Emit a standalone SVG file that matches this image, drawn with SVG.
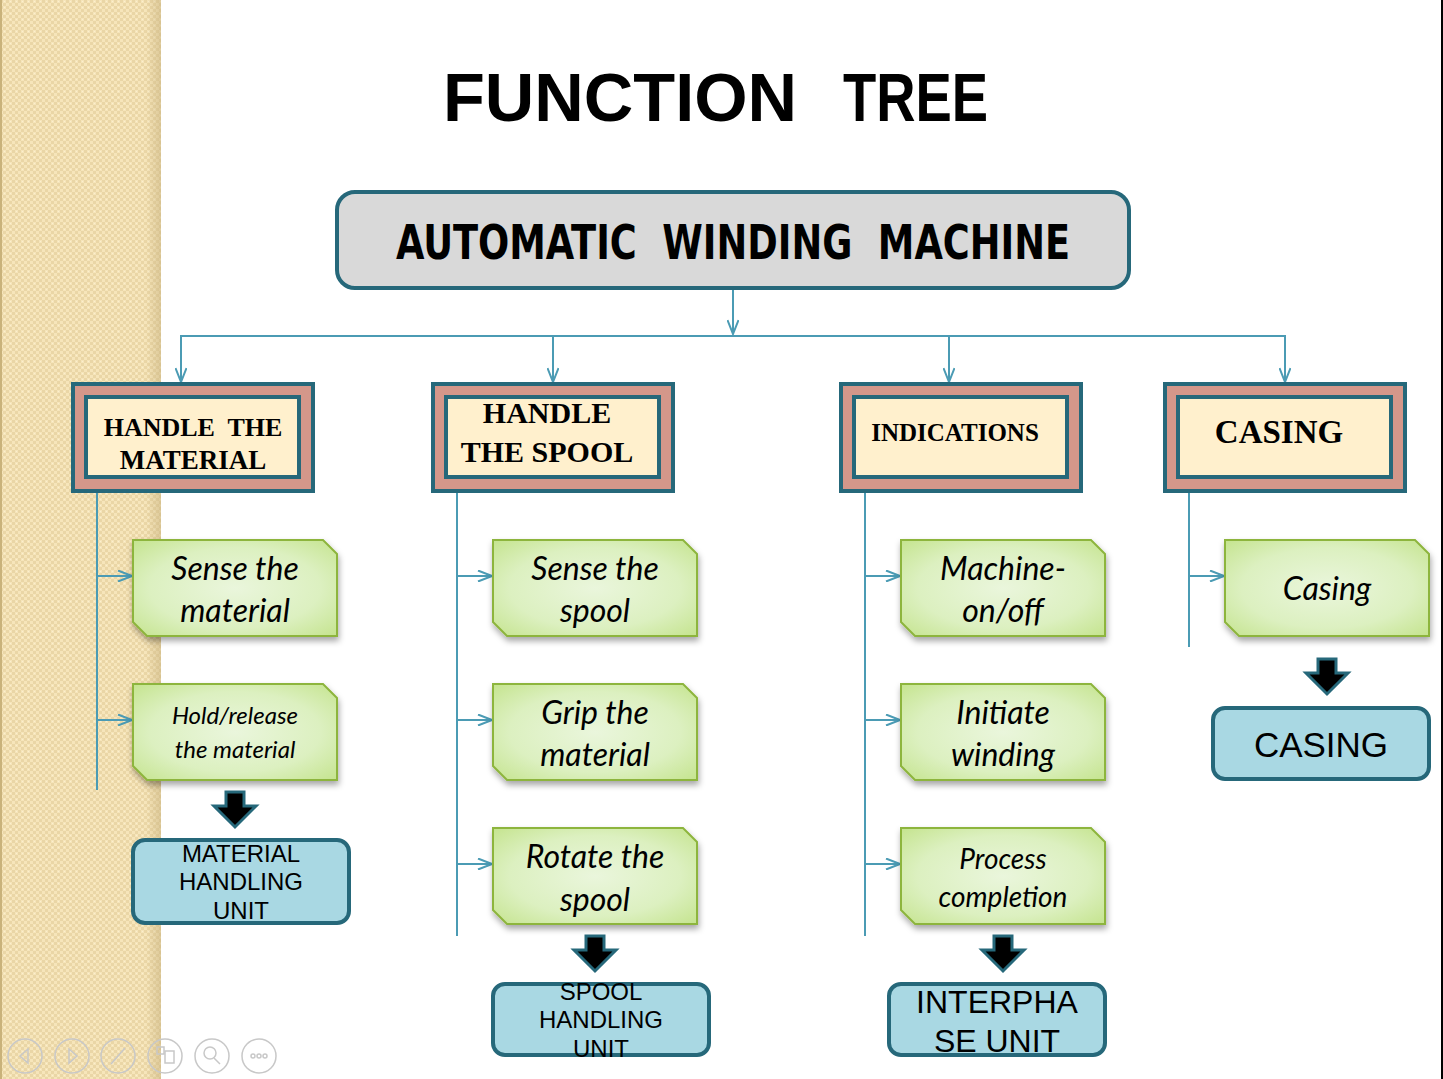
<svg xmlns="http://www.w3.org/2000/svg" width="1443" height="1079" viewBox="0 0 1443 1079">
  <defs>
    <pattern id="weave" width="6" height="6" patternUnits="userSpaceOnUse">
      <rect width="6" height="6" fill="#f6e5ba"/>
      <rect x="0" y="0" width="3" height="3" fill="#ead6a6"/>
      <rect x="3" y="3" width="3" height="3" fill="#ead6a6"/>
      <rect x="4" y="1" width="1" height="1" fill="#fbefcf"/>
    </pattern>
    <linearGradient id="stripEdge" x1="0" x2="1" y1="0" y2="0">
      <stop offset="0" stop-color="#c8b27e" stop-opacity="0"/>
      <stop offset="1" stop-color="#c8b27e" stop-opacity="0.55"/>
    </linearGradient>
    <radialGradient id="leafFill" cx="0.5" cy="0.5" r="0.7">
      <stop offset="0" stop-color="#eaf6dc"/>
      <stop offset="0.6" stop-color="#dcf0c0"/>
      <stop offset="1" stop-color="#c5e48f"/>
    </radialGradient>
    <filter id="shadow" x="-10%" y="-10%" width="125%" height="135%">
      <feDropShadow dx="1" dy="4" stdDeviation="3" flood-color="#000" flood-opacity="0.35"/>
    </filter>
    <marker id="tip" markerWidth="16" markerHeight="12" refX="15" refY="6" orient="auto" markerUnits="userSpaceOnUse">
      <path d="M1,0.5 L15,6 L1,11.5" fill="none" stroke="#4b9bb4" stroke-width="2"/>
    </marker>
    <path id="leafShape" d="M0,0 H190 L204,14 V96 H14 L0,82 Z"/>
    <path id="downArrow" d="M-9,0 H9 V14 H21 L0,35 L-21,14 H-9 Z"/>
  </defs>
  <style>
    .title { font-family: "Liberation Sans", Arial, sans-serif; font-weight: bold; font-size: 68px; fill: #000; }
    .root-box { fill: #d9d9d9; stroke: #26687a; stroke-width: 4; }
    .root-text { font-family: "DejaVu Sans Condensed", "DejaVu Sans", sans-serif; font-weight: bold; font-size: 48px; fill: #000; white-space: pre; }
    .frame-outer { fill: #d4978a; stroke: #26687a; stroke-width: 4; }
    .frame-inner { fill: #fff0cd; stroke: #26687a; stroke-width: 4; }
    .frame-text { font-family: "Liberation Serif", "Times New Roman", serif; font-weight: bold; fill: #000; text-anchor: middle; white-space: pre; }
    .link { fill: none; stroke: #4b9bb4; stroke-width: 2; }
    .leaf { fill: url(#leafFill); stroke: #8db53e; stroke-width: 2; filter: url(#shadow); }
    .leaf-text { font-family: Lato, "Open Sans", sans-serif; font-style: italic; fill: #000; text-anchor: middle; }
    .block { fill: #000; stroke: #26687a; stroke-width: 3; }
    .unit { fill: #a9d8e3; stroke: #26687a; stroke-width: 4; }
    .unit-text { font-family: "Liberation Sans", Arial, sans-serif; fill: #000; text-anchor: middle; }
    .nav { fill: none; stroke: #c8c8c8; stroke-width: 1.5; }
  </style>

  <!-- page background with textured left margin -->
  <rect width="1443" height="1079" fill="#ffffff"/>
  <rect x="0" y="0" width="161" height="1079" fill="url(#weave)"/>
  <rect x="146" y="0" width="15" height="1079" fill="url(#stripEdge)"/>
  <rect x="0" y="0" width="2" height="1079" fill="#c9b27a"/>
  <rect x="1441" y="0" width="2" height="1079" fill="#000"/>

  <g id="title">
    <text class="title" x="443" y="121" textLength="354" lengthAdjust="spacingAndGlyphs">FUNCTION</text>
    <text class="title" x="843" y="121" textLength="145" lengthAdjust="spacingAndGlyphs">TREE</text>
  </g>

  <!-- connectors -->
  <g id="connectors">
    <path class="link" d="M733,289 V334" marker-end="url(#tip)"/>
    <path class="link" d="M180,336 H1286"/>
    <path class="link" d="M181,336 V382" marker-end="url(#tip)"/>
    <path class="link" d="M553,336 V382" marker-end="url(#tip)"/>
    <path class="link" d="M949,336 V382" marker-end="url(#tip)"/>
    <path class="link" d="M1285,336 V382" marker-end="url(#tip)"/>

    <path class="link" d="M97,493 V790"/>
    <path class="link" d="M97,576 H132" marker-end="url(#tip)"/>
    <path class="link" d="M97,720 H132" marker-end="url(#tip)"/>

    <path class="link" d="M457,493 V936"/>
    <path class="link" d="M457,576 H492" marker-end="url(#tip)"/>
    <path class="link" d="M457,720 H492" marker-end="url(#tip)"/>
    <path class="link" d="M457,864 H492" marker-end="url(#tip)"/>

    <path class="link" d="M865,493 V936"/>
    <path class="link" d="M865,576 H900" marker-end="url(#tip)"/>
    <path class="link" d="M865,720 H900" marker-end="url(#tip)"/>
    <path class="link" d="M865,864 H900" marker-end="url(#tip)"/>

    <path class="link" d="M1189,493 V647"/>
    <path class="link" d="M1189,576 H1224" marker-end="url(#tip)"/>

    <use href="#downArrow" class="block" x="235" y="792"/>
    <use href="#downArrow" class="block" x="595" y="936"/>
    <use href="#downArrow" class="block" x="1003" y="936"/>
    <use href="#downArrow" class="block" x="1327" y="659"/>
  </g>

  <!-- root -->
  <g id="root">
    <rect class="root-box" x="337" y="192" width="792" height="96" rx="18"/>
    <text class="root-text" x="396" y="259" textLength="674" lengthAdjust="spacingAndGlyphs" xml:space="preserve">AUTOMATIC  WINDING  MACHINE</text>
  </g>

  <!-- function groups -->
  <g id="handle-material">
    <rect class="frame-outer" x="73" y="384" width="240" height="107"/>
    <rect class="frame-inner" x="86" y="397" width="213" height="80"/>
    <text class="frame-text" x="193" y="436" font-size="26" xml:space="preserve">HANDLE  THE</text>
    <text class="frame-text" x="193" y="469" font-size="27">MATERIAL</text>
  </g>
  <g id="handle-spool">
    <rect class="frame-outer" x="433" y="384" width="240" height="107"/>
    <rect class="frame-inner" x="446" y="397" width="213" height="80"/>
    <text class="frame-text" x="547" y="423" font-size="30">HANDLE</text>
    <text class="frame-text" x="547" y="462" font-size="30">THE SPOOL</text>
  </g>
  <g id="indications">
    <rect class="frame-outer" x="841" y="384" width="240" height="107"/>
    <rect class="frame-inner" x="854" y="397" width="213" height="80"/>
    <text class="frame-text" x="955" y="441" font-size="25">INDICATIONS</text>
  </g>
  <g id="casing-group">
    <rect class="frame-outer" x="1165" y="384" width="240" height="107"/>
    <rect class="frame-inner" x="1178" y="397" width="213" height="80"/>
    <text class="frame-text" x="1279" y="443" font-size="33">CASING</text>
  </g>

  <!-- functions -->
  <g id="sense-material">
    <use href="#leafShape" class="leaf" x="133" y="540"/>
    <text class="leaf-text" x="235" y="580" font-size="32">Sense the</text>
    <text class="leaf-text" x="235" y="622" font-size="32">material</text>
  </g>
  <g id="hold-release">
    <use href="#leafShape" class="leaf" x="133" y="684"/>
    <text class="leaf-text" x="235" y="724" font-size="24">Hold/release</text>
    <text class="leaf-text" x="235" y="758" font-size="24">the material</text>
  </g>
  <g id="sense-spool">
    <use href="#leafShape" class="leaf" x="493" y="540"/>
    <text class="leaf-text" x="595" y="580" font-size="32">Sense the</text>
    <text class="leaf-text" x="595" y="622" font-size="32">spool</text>
  </g>
  <g id="grip-material">
    <use href="#leafShape" class="leaf" x="493" y="684"/>
    <text class="leaf-text" x="595" y="724" font-size="32">Grip the</text>
    <text class="leaf-text" x="595" y="766" font-size="32">material</text>
  </g>
  <g id="rotate-spool">
    <use href="#leafShape" class="leaf" x="493" y="828"/>
    <text class="leaf-text" x="595" y="868" font-size="32">Rotate the</text>
    <text class="leaf-text" x="595" y="911" font-size="32">spool</text>
  </g>
  <g id="machine-onoff">
    <use href="#leafShape" class="leaf" x="901" y="540"/>
    <text class="leaf-text" x="1003" y="580" font-size="32">Machine-</text>
    <text class="leaf-text" x="1003" y="622" font-size="32">on/off</text>
  </g>
  <g id="initiate-winding">
    <use href="#leafShape" class="leaf" x="901" y="684"/>
    <text class="leaf-text" x="1003" y="724" font-size="32">Initiate</text>
    <text class="leaf-text" x="1003" y="766" font-size="32">winding</text>
  </g>
  <g id="process-completion">
    <use href="#leafShape" class="leaf" x="901" y="828"/>
    <text class="leaf-text" x="1003" y="869" font-size="28">Process</text>
    <text class="leaf-text" x="1003" y="907" font-size="28">completion</text>
  </g>
  <g id="casing-function">
    <use href="#leafShape" class="leaf" x="1225" y="540"/>
    <text class="leaf-text" x="1327" y="600" font-size="32">Casing</text>
  </g>

  <!-- units -->
  <g id="material-handling-unit">
    <rect class="unit" x="133" y="840" width="216" height="83" rx="12"/>
    <text class="unit-text" x="241" y="862" font-size="24">MATERIAL</text>
    <text class="unit-text" x="241" y="890" font-size="24">HANDLING</text>
    <text class="unit-text" x="241" y="919" font-size="24">UNIT</text>
  </g>
  <g id="spool-handling-unit">
    <rect class="unit" x="493" y="984" width="216" height="71" rx="12"/>
    <text class="unit-text" x="601" y="1000" font-size="24">SPOOL</text>
    <text class="unit-text" x="601" y="1028" font-size="24">HANDLING</text>
    <text class="unit-text" x="601" y="1057" font-size="24">UNIT</text>
  </g>
  <g id="interphase-unit">
    <rect class="unit" x="889" y="984" width="216" height="71" rx="12"/>
    <text class="unit-text" x="997" y="1013" font-size="32">INTERPHA</text>
    <text class="unit-text" x="997" y="1052" font-size="32">SE UNIT</text>
  </g>
  <g id="casing-unit">
    <rect class="unit" x="1213" y="708" width="216" height="71" rx="12"/>
    <text class="unit-text" x="1321" y="757" font-size="35">CASING</text>
  </g>

  <!-- slideshow controls -->
  <g id="controls">
    <circle class="nav" cx="25" cy="1056" r="17"/>
    <path class="nav" d="M28,1049 L20,1056 L28,1063 Z"/>
    <circle class="nav" cx="72" cy="1056" r="17"/>
    <path class="nav" d="M69,1049 L77,1056 L69,1063 Z"/>
    <circle class="nav" cx="118" cy="1056" r="17"/>
    <path class="nav" d="M111,1064 L125,1048"/>
    <circle class="nav" cx="165" cy="1056" r="17"/>
    <rect class="nav" x="157" y="1047" width="7" height="7"/>
    <rect class="nav" x="165" y="1051" width="9" height="12"/>
    <circle class="nav" cx="212" cy="1056" r="17"/>
    <circle class="nav" cx="210" cy="1053" r="6"/>
    <path class="nav" d="M214,1058 L220,1064"/>
    <circle class="nav" cx="259" cy="1056" r="17"/>
    <circle class="nav" cx="253" cy="1056" r="2"/>
    <circle class="nav" cx="259" cy="1056" r="2"/>
    <circle class="nav" cx="265" cy="1056" r="2"/>
  </g>
</svg>
